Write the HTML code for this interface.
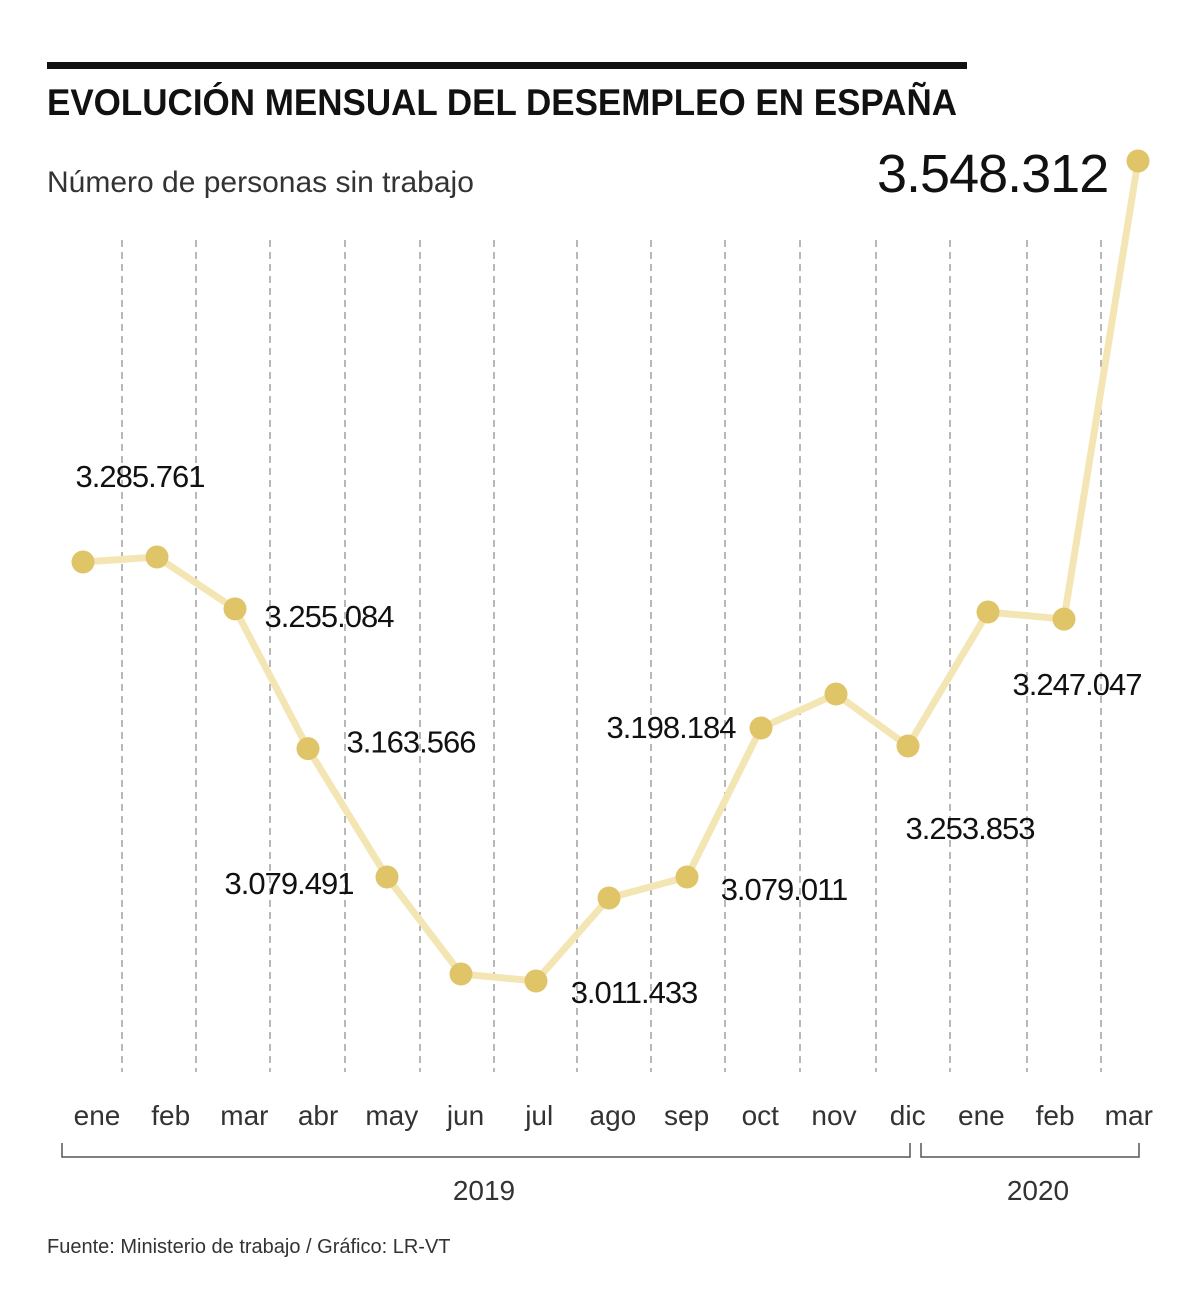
<!DOCTYPE html>
<html><head><meta charset="utf-8">
<style>
html,body{margin:0;padding:0;background:#fff;}
body{width:1200px;height:1306px;position:relative;overflow:hidden;font-family:"Liberation Sans",sans-serif;}
</style></head>
<body>
<svg width="1200" height="1306" viewBox="0 0 1200 1306" xmlns="http://www.w3.org/2000/svg">
<rect x="47" y="62" width="920" height="7" fill="#111"/>
<text x="47" y="115" font-size="37" font-weight="bold" fill="#111" textLength="910" lengthAdjust="spacingAndGlyphs">EVOLUCIÓN MENSUAL DEL DESEMPLEO EN ESPAÑA</text>
<text x="47" y="192" font-size="30" fill="#333">Número de personas sin trabajo</text>
<text x="877" y="192" font-size="54" fill="#111" letter-spacing="-1">3.548.312</text>
<g id="grid"></g>
<g id="series"></g>
<g id="labels"></g>
<g id="months"></g>
<path d="M62 1143 V1157 H910 V1143" fill="none" stroke="#555" stroke-width="1.5"/>
<path d="M921 1143 V1157 H1139 V1143" fill="none" stroke="#555" stroke-width="1.5"/>
<text x="484" y="1200" font-size="28" fill="#333" text-anchor="middle">2019</text>
<text x="1038" y="1200" font-size="28" fill="#333" text-anchor="middle">2020</text>
<text x="47" y="1253" font-size="20" fill="#333">Fuente:  Ministerio de trabajo / Gráfico: LR-VT</text>
</svg>
<script>
const months = ["ene","feb","mar","abr","may","jun","jul","ago","sep","oct","nov","dic","ene","feb","mar"];
const values = [3285761,3289040,3255084,3163566,3079491,3016000,3011433,3065800,3079500,3177100,3199300,3165300,3253000,3248400,3548312];
const labelTexts = ["3.285.761","3.255.084","3.163.566","3.079.491","3.011.433","3.079.011","3.198.184","3.253.853","3.247.047"];
const labelIdx = [1,2,3,4,6,8,9,12,13];
const labelOffX = [-17,94,103,-98,98,97,-90,-18,13];
const labelOffY = [-81,7,-7,6,11,12,-1,216,65];
const gridX = [122,196,270,345,420,494,577,651,725,800,876,950,1027,1101];
const ns="http://www.w3.org/2000/svg";
const xs=[83,157,235,308,387,461,536,609,687,761,836,908,988,1064,1138];
function x(i){return xs[i];}
function y(v){return 981-(v-3011433)*(820/536879);}
const grid=document.getElementById('grid');
gridX.forEach((gx)=>{const l=document.createElementNS(ns,'line');
l.setAttribute('x1',gx);l.setAttribute('x2',gx);l.setAttribute('y1',240);l.setAttribute('y2',1072);
l.setAttribute('stroke','#888');l.setAttribute('stroke-width','1.2');l.setAttribute('stroke-dasharray','7 5');


grid.appendChild(l);});
const s=document.getElementById('series');
const p=document.createElementNS(ns,'polyline');
p.setAttribute('points',values.map((v,i)=>x(i)+','+y(v)).join(' '));
p.setAttribute('fill','none');p.setAttribute('stroke','#f4e6b4');p.setAttribute('stroke-width','7');p.setAttribute('stroke-linejoin','round');


s.appendChild(p);
values.forEach((v,i)=>{const c=document.createElementNS(ns,'circle');
c.setAttribute('cx',x(i));c.setAttribute('cy',y(v));c.setAttribute('r',11.5);c.setAttribute('fill','#dfc468');


s.appendChild(c);});
const lg=document.getElementById('labels');
labelTexts.forEach((t,k)=>{const i=labelIdx[k];const e=document.createElementNS(ns,'text');
e.setAttribute('x',x(i)+labelOffX[k]);e.setAttribute('y',y(values[i])+labelOffY[k]+11);
e.setAttribute('text-anchor','middle');e.setAttribute('font-size','31');e.setAttribute('fill','#111');e.setAttribute('letter-spacing','-1');
e.textContent=t;


lg.appendChild(e);});
const mg=document.getElementById('months');
months.forEach((m,i)=>{const e=document.createElementNS(ns,'text');
e.setAttribute('x',97+i*73.7);e.setAttribute('y',1125);e.setAttribute('text-anchor','middle');e.setAttribute('font-size','28');e.setAttribute('fill','#333');
e.textContent=m;


mg.appendChild(e);});
</script>
</body></html>
